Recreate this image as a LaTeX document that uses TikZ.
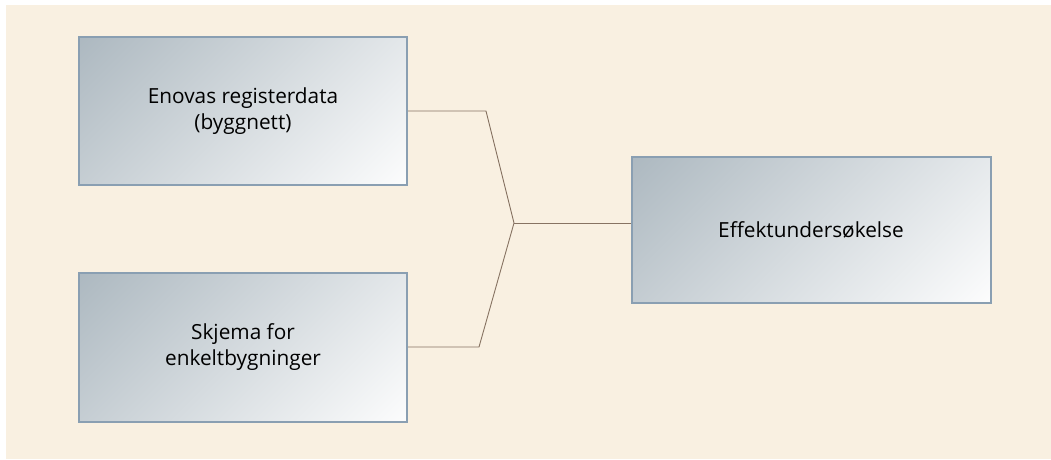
\documentclass[tikz,border=0pt]{standalone}
\usepackage{fontspec}
\setmainfont{Open Sans}
\usepackage{tikz}
\usetikzlibrary{positioning}
\definecolor{bgcream}{RGB}{249,240,225}
\definecolor{boxedge}{RGB}{138,159,178}
\definecolor{boxdark}{RGB}{170,182,190}
\definecolor{linkbrown}{RGB}{135,115,98}
\pgfdeclarehorizontalshading{boxfade}{100bp}{color(0bp)=(boxdark); color(12bp)=(boxdark); color(88bp)=(white); color(100bp)=(white)}
\tikzstyle{source} = [rectangle, minimum width=328pt, minimum height=147pt, text centered, align=center, draw=boxedge, line width=2pt, shading=boxfade, shading angle=-45, font=\fontsize{20.8}{26}\selectfont]
\tikzstyle{link} = [line width=0.9pt, color=linkbrown]

\begin{document}
\begin{tikzpicture}[x=1pt,y=1pt]
\useasboundingbox (0,0) rectangle (1051,459);
\fill[bgcream] (6,0) rectangle (1051,454);
\node (register) [source] at (243,348) {Enovas registerdata\\(byggnett)};
\node (schema) [source, minimum height=149pt] at (243,112) {Skjema for\\enkeltbygninger};
\node (survey) [source, minimum width=359pt, minimum height=146pt] at (811,229.5) {Effektundersøkelse};
\coordinate (join) at (514,236);
\coordinate (bendtop) at (486,348);
\coordinate (bendbot) at (479,112);
\draw[link] (register.east) -- (bendtop) -- (join);
\draw[link] (schema.east) -- (bendbot) -- (join);
\draw[link] (join) -- (join -| survey.west);
\end{tikzpicture}
\end{document}
